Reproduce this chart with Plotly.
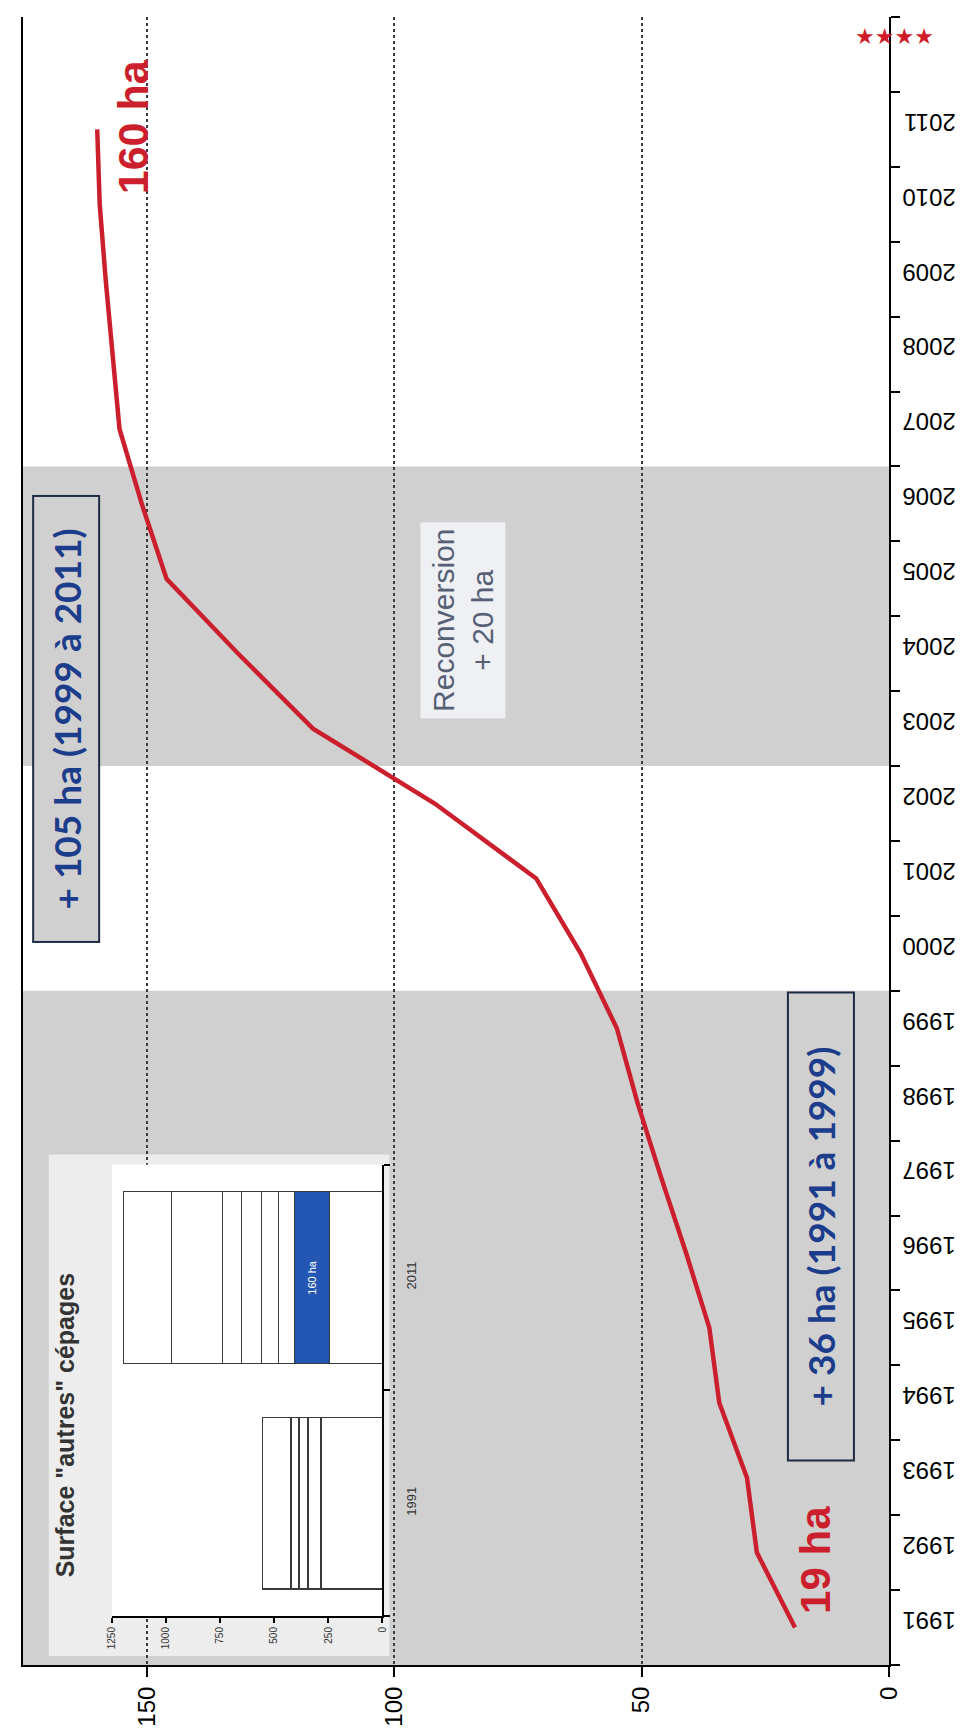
import plotly.graph_objects as go

# ---------------- data ----------------
years = [1991, 1992, 1993, 1994, 1995, 1996, 1997, 1998, 1999, 2000,
         2001, 2002, 2003, 2004, 2005, 2006, 2007, 2008, 2009, 2010, 2011]
surface_ha = [19, 26.7, 28.7, 34.3, 36.3, 41, 46, 50.8, 55, 62.3,
              71.3, 91.8, 116.4, 131.5, 146, 151, 155.5, 157, 158.3, 159.5, 160]
year_labels = [str(y) for y in years]
value_ticks = [0, 50, 100, 150]
shaded_periods = [(1990.5, 1999.5), (2002.5, 2006.5)]

# inset: stacked surfaces (ha) for 1991 and 2011
inset_categories = ["1991", "2011"]
inset_segments = [
    [284, 245],
    [60, 160],
    [41, 77],
    [37, 78],
    [133, 92],
    [0, 87],
    [0, 238],
    [0, 222],
]
inset_ticks = [0, 250, 500, 750, 1000, 1250]

# ---------------- figure ----------------
W, H = 967, 1728
L, R, T, B = 9, 86, 9, 69
PW, PH = W - L - R, H - T - B
fig = go.Figure()

RED = "#cc1f2d"
NAVY = "#1c3c8c"
SANS = "Liberation Sans, Arial, sans-serif"
NARROW = "Liberation Sans Narrow, Arial Narrow, Liberation Sans, sans-serif"

fig.add_trace(go.Scatter(
    x=surface_ha, y=years, mode="lines",
    line=dict(color=RED, width=4.5),
    xaxis="x", yaxis="y", showlegend=False, hoverinfo="skip"))

for i, seg in enumerate(inset_segments):
    colors = ["white", "white"]
    texts = ["", ""]
    if i == 1:
        colors = ["white", "#2457b3"]
        texts = ["", "160 ha"]
    fig.add_trace(go.Bar(
        x=seg, y=inset_categories, orientation="h",
        xaxis="x2", yaxis="y2", width=0.76,
        marker=dict(color=colors, line=dict(color="#3a3a3a", width=1.3)),
        text=texts, textposition="inside", textangle=-90,
        insidetextanchor="middle",
        insidetextfont=dict(color="white", size=11, family=NARROW),
        showlegend=False, hoverinfo="skip"))

shapes = []
for (a, b) in shaded_periods:
    shapes.append(dict(type="rect", xref="x domain", yref="y",
                       x0=0, x1=1, y0=a, y1=b,
                       fillcolor="#d0d0d0", line=dict(width=0), layer="below"))
# inset background
shapes.append(dict(type="rect", xref="paper", yref="paper",
                   x0=(35 - L) / PW, x1=(378 - L) / PW,
                   y0=(H - B - 1650) / PH, y1=(H - B - 1148) / PH,
                   fillcolor="#ededed", line=dict(width=0), layer="between"))

annotations = [
    dict(x=15.0, y=1991.9, xref="x", yref="y", text="<b>19 ha</b>", textangle=-90,
         showarrow=False, font=dict(family=SANS, size=42, color=RED)),
    dict(x=152.6, y=2011.04, xref="x", yref="y", text="<b>160 ha</b>", textangle=-90,
         showarrow=False, font=dict(family=SANS, size=43, color=RED)),
    dict(x=166.3, y=2003.13, xref="x", yref="y", text="<b>+ 105 ha (1999 à 2011)</b>",
         textangle=-90, showarrow=False, width=440, height=60,
         bgcolor="#d0d0d0", bordercolor="#1e2b45", borderwidth=2, borderpad=2,
         font=dict(family="Lato, Open Sans, sans-serif", size=37, color=NAVY)),
    dict(x=13.8, y=1996.35, xref="x", yref="y", text="<b>+ 36 ha (1991 à 1999)</b>",
         textangle=-90, showarrow=False, width=462, height=60,
         bgcolor="#d0d0d0", bordercolor="#1e2b45", borderwidth=2, borderpad=2,
         font=dict(family="Lato, Open Sans, sans-serif", size=37, color=NAVY)),
    dict(x=86.1, y=2004.45, xref="x", yref="y", text="Reconversion<br>+ 20 ha",
         textangle=-90, showarrow=False, bgcolor="#eef0f4", borderpad=6,
         font=dict(family=SANS, size=30, color="#566075")),
    dict(x=166.5, y=1993.7, xref="x", yref="y", text="<b>Surface \"autres\" cépages</b>",
         textangle=-90, showarrow=False,
         font=dict(family=NARROW, size=25, color="#333333")),
    dict(x=(928 - L) / PW, y=(H - B - 14) / PH, xref="paper", yref="paper",
         text="★★★★", showarrow=False,
         font=dict(family="DejaVu Sans", size=22, color="#d01c2a")),
]

fig.update_layout(
    width=W, height=H,
    margin=dict(l=L, r=R, t=T, b=B, pad=0),
    paper_bgcolor="white", plot_bgcolor="white",
    barmode="stack", bargap=0.24,
    shapes=shapes, annotations=annotations,
    xaxis=dict(
        domain=[0, 1], range=[175, 0], anchor="y",
        tickmode="array", tickvals=value_ticks,
        tickangle=-90, ticks="outside", ticklen=10, tickwidth=2, tickcolor="black",
        showline=True, linecolor="black", linewidth=2,
        showgrid=True, gridcolor="#3a3a3a", griddash="dot", gridwidth=1.5,
        zeroline=False,
        tickfont=dict(family=SANS, size=24, color="black"),
    ),
    yaxis=dict(
        domain=[0, 1], range=[1990.5, 2012.5], anchor="x", side="right",
        tickmode="array", tickvals=years, ticktext=year_labels,
        ticks="", tickangle=180, ticklabelstandoff=60,
        minor=dict(ticks="outside", tick0=1990.5, dtick=1, ticklen=9,
                   tickwidth=2, tickcolor="black", showgrid=False),
        showline=True, mirror=True, linecolor="black", linewidth=2,
        showgrid=False, zeroline=False,
        tickfont=dict(family=SANS, size=24, color="black"),
    ),
    xaxis2=dict(
        domain=[(98.8 - L) / PW, (370.8 - L) / PW],
        anchor="y2", range=[1250, 0],
        tickmode="array", tickvals=inset_ticks,
        tickangle=-90, ticks="outside", ticklen=5, tickwidth=1.5, tickcolor="black",
        showline=True, linecolor="black", linewidth=2,
        showgrid=False, zeroline=False,
        tickfont=dict(family=NARROW, size=10, color="#333333"),
    ),
    yaxis2=dict(
        domain=[(H - B - 1610) / PH, (H - B - 1158) / PH],
        anchor="x2", side="right", type="category",
        categoryorder="array", categoryarray=inset_categories,
        range=[-0.5, 1.5], tickson="boundaries",
        ticks="outside", ticklen=6, tickwidth=1.5, tickcolor="black",
        tickangle=-90, ticklabelstandoff=16,
        showline=True, linecolor="black", linewidth=2,
        showgrid=False, zeroline=False,
        tickfont=dict(family=NARROW, size=13, color="#333333"),
    ),
)

fig.write_html("out.html")
